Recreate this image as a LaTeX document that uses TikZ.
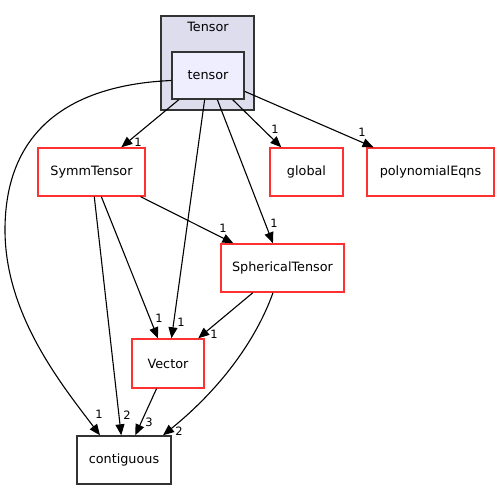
\documentclass[tikz,border=0pt]{standalone}
\usepackage{fontspec}
\setmainfont{DejaVu Sans}
\usetikzlibrary{arrows.meta}
\definecolor{dirred}{HTML}{FF3030}
\definecolor{clgray}{HTML}{333333}
\definecolor{clfill}{HTML}{DDDDEE}
\definecolor{curfill}{HTML}{EEEEFF}
\begin{document}
\begin{tikzpicture}[x=1pt, y=-1pt,
  dirbox/.style={draw=dirred, line width=1.4pt, fill=white, minimum height=48pt, inner sep=0pt, font=\fontsize{12.8}{15}\selectfont},
  lbl/.style={inner sep=0pt, font=\fontsize{11.5}{13}\selectfont},
  dep/.style={-{Triangle[length=11pt,width=9pt]}, line width=1.1pt}]
\useasboundingbox (0,0) rectangle (499,489);
% cluster
\node[draw=clgray, line width=1.4pt, fill=clfill, minimum width=93pt, minimum height=94pt, inner sep=0pt] (cluster) at (207.5,63) {};
\node[inner sep=0pt, font=\fontsize{12.8}{15}\selectfont] (clustername) at (208,27) {Tensor};
\node[dirbox, draw=clgray, fill=curfill, minimum width=72pt, minimum height=47pt] (tensor) at (208,75.5) {tensor};
% directories
\node[dirbox, minimum width=107pt] (symm) at (91.5,172) {SymmTensor};
\node[dirbox, minimum width=73pt] (global) at (306.5,172) {global};
\node[dirbox, minimum width=127pt] (poly) at (430.5,172) {polynomialEqns};
\node[dirbox, minimum width=123pt] (sph) at (282.5,268) {SphericalTensor};
\node[dirbox, minimum width=72pt, minimum height=49pt] (vector) at (168,363.5) {Vector};
\node[dirbox, draw=clgray, minimum width=94pt] (contig) at (124,460) {contiguous};
% dependencies
\draw[dep] (tensor) -- (symm);
\draw[dep] (tensor) -- (global);
\draw[dep] (tensor) -- (poly);
\draw[dep] (tensor) -- (sph);
\draw[dep] (tensor) -- (vector);
\draw[dep] ([yshift=-5pt]tensor.west) .. controls (70,85) and (5,130) .. (5,230) .. controls (5,315) and (62,385) .. ([xshift=-24pt]contig.north);
\draw[dep] (symm) -- (sph);
\draw[dep] (symm) -- (vector);
\draw[dep] (symm) -- (contig);
\draw[dep] (sph) -- (vector);
\draw[dep] ([xshift=-9.5pt]sph.south) .. controls (258,335) and (225,385) .. ([xshift=39pt]contig.north);
\draw[dep] (vector) -- (contig);
% counts
\node[lbl] (n1) at (138,142) {1};
\node[lbl] (n2) at (275,129) {1};
\node[lbl] (n3) at (362,132) {1};
\node[lbl] (n4) at (274,223) {1};
\node[lbl] (n5) at (223,228) {1};
\node[lbl] (n6) at (159,318) {1};
\node[lbl] (n7) at (181,322) {1};
\node[lbl] (n8) at (214,334) {1};
\node[lbl] (n9) at (99,414) {1};
\node[lbl] (n10) at (127,415) {2};
\node[lbl] (n11) at (149,422) {3};
\node[lbl] (n12) at (179,431) {2};
\end{tikzpicture}
\end{document}
